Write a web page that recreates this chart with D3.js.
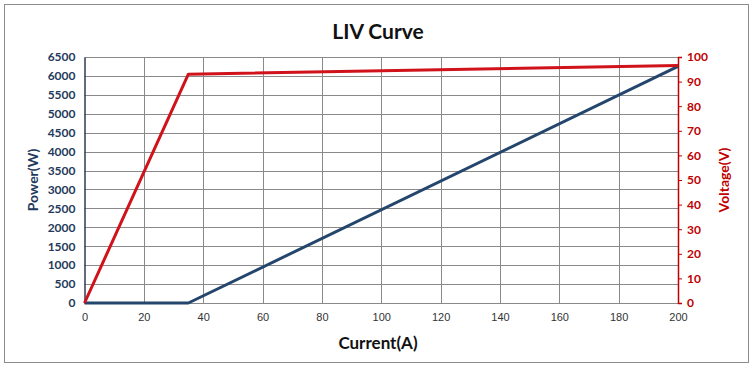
<!DOCTYPE html>
<html><head><meta charset="utf-8">
<script src="https://cdn.jsdelivr.net/npm/d3@7"></script>
<style>body{margin:0;background:#fff}svg{display:block}</style>
</head><body>
<svg id="c" width="753" height="368"></svg>
<script>
const currentTicks = [0,20,40,60,80,100,120,140,160,180,200];
const powerTicks = [0,500,1000,1500,2000,2500,3000,3500,4000,4500,5000,5500,6000,6500];
const voltageTicks = [0,10,20,30,40,50,60,70,80,90,100];
const voltageCurrent = [0,35,200];
const voltageValues = [0,93,96.5];
const powerCurrent = [0,35,200];
const powerValues = [0,0,6250];

const svg = d3.select("#c");
const L = 84.5, R = 678, T = 57, B = 303;
const x = d3.scaleLinear().domain([0,200]).range([L,R]);
const yP = d3.scaleLinear().domain([0,6500]).range([B,T]);
const yV = d3.scaleLinear().domain([0,100]).range([B,T]);
const fmt = d3.format("d");

svg.append("rect").attr("x",4.5).attr("y",4.5).attr("width",744).attr("height",358)
  .attr("fill","#fff").attr("stroke","#8c8c8c").attr("stroke-width",1);

svg.append("text").attr("x",378).attr("y",39).attr("text-anchor","middle")
  .attr("font-family","Lato, 'Open Sans', sans-serif").attr("font-weight","bold")
  .attr("font-size",21).attr("fill","#111").text("LIV Curve");

// grid
const g = svg.append("g");
g.selectAll("line.h").data(powerTicks).join("line")
  .attr("x1",L).attr("x2",R).attr("y1",d=>Math.round(yP(d))+0.5).attr("y2",d=>Math.round(yP(d))+0.5)
  .attr("stroke","#8a8a8a").attr("stroke-width",1);
g.selectAll("line.v").data(currentTicks.slice(1)).join("line")
  .attr("x1",d=>Math.round(x(d))+0.5).attr("x2",d=>Math.round(x(d))+0.5).attr("y1",T).attr("y2",B)
  .attr("stroke","#8a8a8a").attr("stroke-width",1);

// left axis
const la = svg.append("g").attr("transform",`translate(${L},0)`)
  .call(d3.axisLeft(yP).tickValues(powerTicks).tickFormat(fmt).tickSize(0).tickPadding(9));
la.select(".domain").attr("stroke","#2e3d4f").attr("stroke-width",1.5);
la.selectAll("text").attr("font-family","Lato, 'Open Sans', sans-serif").attr("font-weight","bold")
  .attr("font-size",12).attr("fill","#1f3a5c");

// bottom axis
const ba = svg.append("g").attr("transform",`translate(0,${B})`)
  .call(d3.axisBottom(x).tickValues(currentTicks).tickFormat(fmt).tickSize(0).tickPadding(10));
ba.select(".domain").attr("stroke","#8a8a8a");
ba.selectAll("text").attr("font-family","'Liberation Sans', Arial, sans-serif")
  .attr("font-size",11).attr("fill","#333");

// right axis
const ra = svg.append("g").attr("transform",`translate(${R},0)`)
  .call(d3.axisRight(yV).tickValues(voltageTicks).tickFormat(fmt).tickSize(4).tickPadding(5));
ra.select(".domain").attr("stroke","#c00000").attr("stroke-width",1.5);
ra.selectAll(".tick line").attr("stroke","#c00000");
ra.selectAll("text").attr("font-family","Lato, 'Open Sans', sans-serif").attr("font-weight","bold")
  .attr("font-size",12).attr("fill","#c00000");

// lines
const lineP = d3.line().x(d=>x(d[0])).y(d=>yP(d[1]));
const lineV = d3.line().x(d=>x(d[0])).y(d=>yV(d[1]));
svg.append("path").datum(powerCurrent.map((c,i)=>[c,powerValues[i]]))
  .attr("d",lineP).attr("fill","none").attr("stroke","#24466c").attr("stroke-width",3).attr("stroke-linejoin","round");
svg.append("path").datum(voltageCurrent.map((c,i)=>[c,voltageValues[i]]))
  .attr("d",lineV).attr("fill","none").attr("stroke","#d0121b").attr("stroke-width",3).attr("stroke-linejoin","round");

// axis titles
svg.append("text").attr("transform","translate(38,180) rotate(-90)").attr("text-anchor","middle")
  .attr("font-family","Lato, 'Open Sans', sans-serif").attr("font-weight","bold").attr("font-size",14)
  .attr("fill","#1f3a5c").text("Power(W)");
svg.append("text").attr("transform","translate(729,180) rotate(-90)").attr("text-anchor","middle")
  .attr("font-family","Lato, 'Open Sans', sans-serif").attr("font-weight","bold").attr("font-size",14)
  .attr("fill","#c00000").text("Voltage(V)");
svg.append("text").attr("x",378).attr("y",349).attr("text-anchor","middle")
  .attr("font-family","Lato, 'Open Sans', sans-serif").attr("font-weight","bold").attr("font-size",17)
  .attr("fill","#111").text("Current(A)");
</script>
</body></html>
